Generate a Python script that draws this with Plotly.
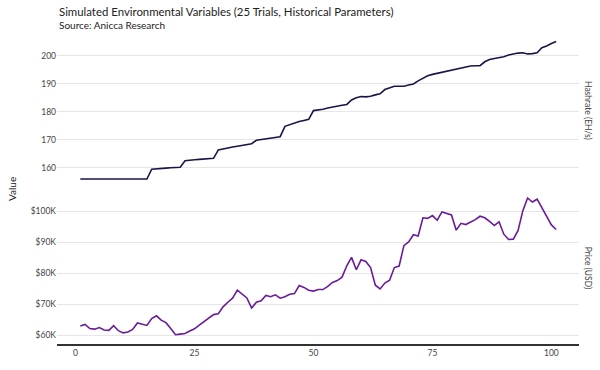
import plotly.graph_objects as go
from plotly.subplots import make_subplots

# ---- data ----
days = list(range(1, 102))

hashrate_ehs = [
    156.0, 156.0, 156.0, 156.0, 156.0, 156.0, 156.0, 156.0, 156.0, 156.0,
    156.0, 156.0, 156.0, 156.0, 156.0, 159.5, 159.7, 159.8, 159.9, 160.0,
    160.1, 160.2, 162.5, 162.8, 162.9, 163.0, 163.1, 163.2, 163.4, 166.4,
    166.8, 167.1, 167.4, 167.7, 168.0, 168.3, 168.6, 169.8, 170.1, 170.4,
    170.6, 170.8, 171.1, 174.8, 175.4, 176.0, 176.5, 176.9, 177.3, 180.4,
    180.6, 180.9, 181.3, 181.7, 182.0, 182.3, 182.6, 184.2, 185.0, 185.4,
    185.3, 185.5, 186.0, 186.4, 187.9, 188.6, 189.1, 189.1, 189.1, 189.5,
    189.9, 191.0, 191.8, 192.8, 193.3, 193.7, 194.0, 194.4, 194.8, 195.3,
    195.7, 196.1, 196.3, 196.4, 196.4, 197.8, 198.6, 199.0, 199.2, 199.6,
    200.2, 200.6, 200.9, 201.0, 200.6, 200.7, 201.0, 202.8, 203.4, 204.3,
    205.0,
]

price_usd = [
    62900, 63400, 62100, 61900, 62400, 61600, 61500, 63000, 61400, 60700,
    61000, 61800, 63900, 63400, 63100, 65300, 66200, 64800, 64000, 62100,
    60100, 60300, 60500, 61300, 62000, 63200, 64300, 65500, 66600, 66900,
    69100, 70600, 71900, 74500, 73300, 72000, 68700, 70600, 71100, 72800,
    72400, 73000, 71900, 72400, 73200, 73400, 76000, 75400, 74500, 74200,
    74700, 74700, 75700, 77000, 77600, 78700, 82400, 85100, 81100, 84300,
    83800, 81800, 76100, 74900, 76800, 77700, 81800, 82300, 88900, 90100,
    92400, 92000, 97900, 97700, 98600, 97100, 99800, 99400, 98800, 93900,
    96100, 95700, 96500, 97300, 98400, 97900, 96700, 95400, 96600, 92600,
    90900, 91000, 93800, 100200, 104300, 103000, 103900, 101000, 98300, 95600,
    94100,
]

x_ticks = [0, 25, 50, 75, 100]
hash_ticks = [160, 170, 180, 190, 200]
price_ticks = [60000, 70000, 80000, 90000, 100000]
price_ticktext = ["$%dK" % (v // 1000) for v in price_ticks]

title_text = "Simulated Environmental Variables (25 Trials, Historical Parameters)"
subtitle_text = "Source: Anicca Research"
row_titles = ["Hashrate (EH/s)", "Price (USD)"]
y_title = "Value"

FONT = "Lato"
HASH_COLOR = "#191548"
PRICE_COLOR = "#6a1b9a"
GRID = "#e6e6e6"
TICK_COLOR = "#444444"

TOP_M, BOT_M = 34, 21
PLOT_H = 370 - TOP_M - BOT_M
TOP_DOMAIN = [0.5095, 1.0]
BOT_DOMAIN = [0.0, 0.492]

fig = make_subplots(rows=2, cols=1, shared_xaxes=True, vertical_spacing=0.016)

fig.add_trace(go.Scatter(x=days, y=hashrate_ehs, mode="lines",
                         line=dict(color=HASH_COLOR, width=1.6),
                         name=row_titles[0], showlegend=False), row=1, col=1)
fig.add_trace(go.Scatter(x=days, y=price_usd, mode="lines",
                         line=dict(color=PRICE_COLOR, width=1.6),
                         name=row_titles[1], showlegend=False), row=2, col=1)

fig.update_layout(
    width=600, height=370,
    margin=dict(l=57, r=21, t=TOP_M, b=BOT_M),
    paper_bgcolor="white", plot_bgcolor="white",
    font=dict(family=FONT, size=8.5, color=TICK_COLOR),
    showlegend=False,
)

fig.update_xaxes(range=[-3.9, 105.8], tickvals=x_ticks, showgrid=False,
                 zeroline=False, ticks="", tickfont=dict(size=8.5, color=TICK_COLOR))
fig.update_xaxes(showline=True, linecolor="#333333", linewidth=2, row=2, col=1)
fig.update_xaxes(showline=False, row=1, col=1)

fig.update_yaxes(range=[153.5, 207.7], tickvals=hash_ticks, showgrid=True,
                 gridcolor=GRID, gridwidth=1, zeroline=False, ticks="",
                 domain=TOP_DOMAIN, row=1, col=1)
fig.update_yaxes(range=[57100, 106400], tickvals=price_ticks, ticktext=price_ticktext,
                 showgrid=True, gridcolor=GRID, gridwidth=1, zeroline=False,
                 ticks="", domain=BOT_DOMAIN, row=2, col=1)

annotations = [
    dict(text=title_text, xref="paper", yref="paper", x=0, y=1 + (TOP_M - 11) / PLOT_H,
         xanchor="left", yanchor="middle", showarrow=False,
         font=dict(family=FONT, size=11.4, color="#222222")),
    dict(text=subtitle_text, xref="paper", yref="paper", x=0, y=1 + (TOP_M - 24.5) / PLOT_H,
         xanchor="left", yanchor="middle", showarrow=False,
         font=dict(family=FONT, size=10, color="#222222")),
    dict(text=row_titles[0], xref="paper", yref="paper", x=1, y=sum(TOP_DOMAIN) / 2,
         xanchor="left", yanchor="middle", xshift=2, textangle=90, showarrow=False,
         font=dict(family=FONT, size=8.5, color=TICK_COLOR)),
    dict(text=row_titles[1], xref="paper", yref="paper", x=1, y=sum(BOT_DOMAIN) / 2,
         xanchor="left", yanchor="middle", xshift=2, textangle=90, showarrow=False,
         font=dict(family=FONT, size=8.5, color=TICK_COLOR)),
    dict(text=y_title, xref="paper", yref="paper", x=-57 / 522, y=0.5,
         xanchor="left", yanchor="middle", xshift=4, textangle=-90, showarrow=False,
         font=dict(family=FONT, size=10, color="#222222")),
]
fig.update_layout(annotations=annotations)

fig.write_html("out.html", config={"displayModeBar": False},
               post_script="document.body.style.margin='0px';")
